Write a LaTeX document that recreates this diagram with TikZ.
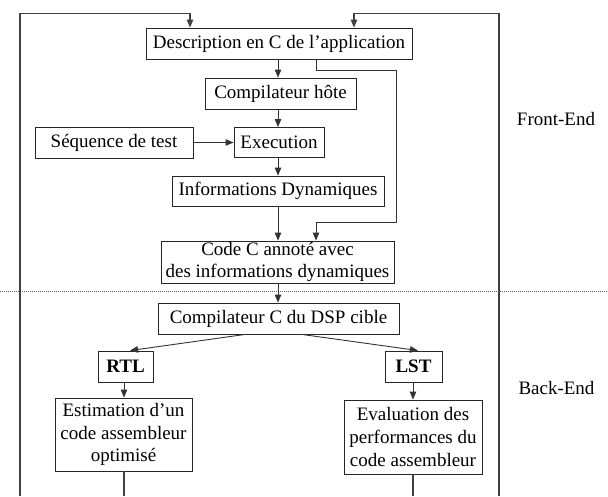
\documentclass[tikz,border=0pt]{standalone}
\usepackage{fontspec}
\setmainfont{Liberation Serif}
\usetikzlibrary{arrows.meta}
\tikzset{
  box/.style={draw=black!85, line width=0.9pt, inner sep=0pt, align=center,
    font=\fontsize{19}{22.7}\selectfont},
  lbl/.style={inner sep=0pt, font=\fontsize{19}{22.7}\selectfont},
  arr/.style={draw=black!80, line width=0.9pt, -{Triangle[length=8pt,width=6.5pt]}},
  loopline/.style={draw=black!75, line width=1.4pt},
  looparr/.style={loopline, -{Triangle[length=8pt,width=6.5pt]}}
}
\begin{document}
\begin{tikzpicture}[x=1pt,y=-1pt]
\useasboundingbox (0,0) rectangle (608,496);
\fill[white] (0,0) rectangle (608,496);

% nodes
\node[box, minimum width=266pt, minimum height=31pt] (desc) at (279,43.5) {Description en C de l'application};
\node[box, minimum width=151pt, minimum height=31pt] (comp) at (280.5,93.5) {Compilateur hôte};
\node[box, minimum width=158pt, minimum height=31pt] (seq) at (114,142.5) {Séquence de test};
\node[box, minimum width=90pt, minimum height=30pt] (exec) at (279,142.5) {Execution};
\node[box, minimum width=212pt, minimum height=30pt] (info) at (278,191) {Informations Dynamiques};
\node[box, minimum width=233pt, minimum height=42pt] (code) at (277.5,262) {Code C annoté avec\\des informations dynamiques};
\node[box, minimum width=241pt, minimum height=31pt] (dsp) at (278.5,318.5) {Compilateur C du DSP cible};
\node[box, minimum width=55pt, minimum height=31pt, font=\fontsize{19}{22.7}\selectfont\bfseries] (rtl) at (125.5,366.5) {RTL};
\node[box, minimum width=57pt, minimum height=31pt, font=\fontsize{19}{22.7}\selectfont\bfseries] (lst) at (413.5,366.5) {LST};
\node[box, minimum width=137pt, minimum height=73pt] (est) at (123.5,434.5) {Estimation d'un\\code assembleur\\optimisé};
\node[box, minimum width=138pt, minimum height=74pt] (eval) at (413,437) {Evaluation des\\performances du\\code assembleur};

\node[lbl] (fe) at (556,119) {Front-End};
\node[lbl] (be) at (556.5,388) {Back-End};

% separator
\coordinate (sepL) at (0,291.5);
\coordinate (sepR) at (608,291.5);
\draw[black!60, line width=1pt, dash pattern=on 1pt off 1pt] (sepL) -- (sepR);

% main chain
\draw[arr] (desc.south -| 278,0) -- (comp.north -| 278,0);
\draw[arr] (comp.south -| 278,0) -- (exec.north -| 278,0);
\draw[arr] (exec.south -| 278,0) -- (info.north -| 278,0);
\draw[arr] (info.south -| 278,0) -- (code.north -| 278,0);
\draw[arr] (code.south -| 278,0) -- (dsp.north -| 278,0);
\draw[arr] (seq.east) -- (exec.west);

% feedback from desc to code
\draw[arr] (desc.south -| 316,0) -- (316,70) -- (396,70) -- (396,222) -- (316,222) -- (code.north -| 316,0);

% branches
\draw[arr] (dsp.south -| 245,0) -- (rtl.north -| 130,0);
\draw[arr] (dsp.south -| 302,0) -- (lst.north -| 418,0);
\draw[arr] (rtl.south -| 124,0) -- (est.north -| 124,0);
\draw[arr] (lst.south -| 413,0) -- (eval.north -| 413,0);

% outer loops
\coordinate (bl) at (20,496);
\coordinate (br) at (499,496);
\coordinate (eb) at (124,496);
\coordinate (vb) at (413,496);
\draw[looparr] (bl) -- (20,13.5) -- (190,13.5) -- (desc.north -| 190,0);
\draw[looparr] (br) -- (499,13.5) -- (354,13.5) -- (desc.north -| 354,0);
\draw[loopline] (est.south -| 124,0) -- (eb);
\draw[loopline] (eval.south -| 413,0) -- (vb);
\end{tikzpicture}
\end{document}
